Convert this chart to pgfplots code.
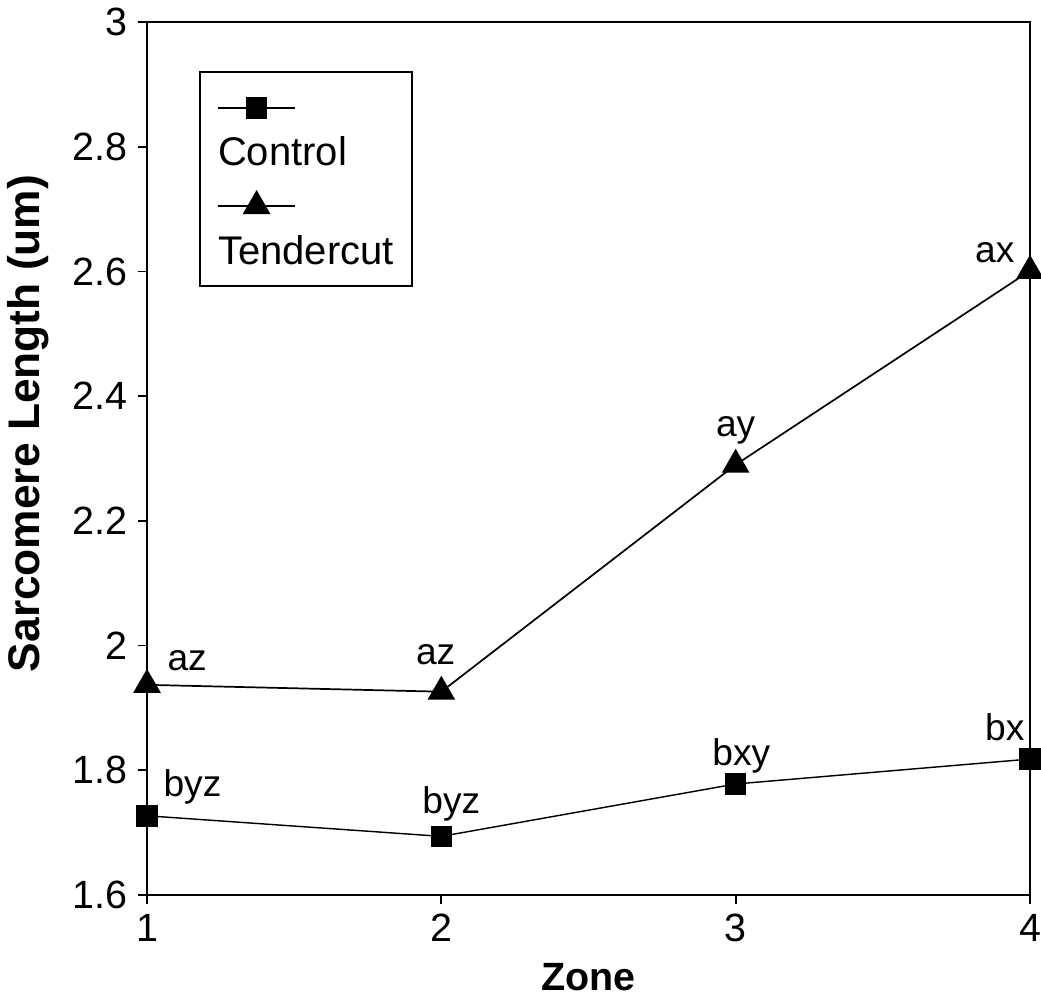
\documentclass[border=0pt]{standalone}
\usepackage{fontspec}
\setmainfont{Liberation Sans}
\usepackage{pgfplots}
\pgfplotsset{compat=1.18}

\begin{document}
\begin{tikzpicture}
  \begin{axis}[
    scale only axis,
    width=309pt,
    height=305.5pt,
    xmin=1, xmax=4,
    ymin=1.6, ymax=3,
    xtick={1,2,3,4},
    ytick={1.6,1.8,2,2.2,2.4,2.6,2.8,3},
    tick pos=left,
    tick align=outside,
    major tick length=3.2pt,
    axis line style={line width=0.7pt},
    tick style={line width=0.6pt,black},
    clip=false,
    /pgf/number format/assume math mode=true,
    ticklabel style={font=\fontsize{13.8}{16}\selectfont},
    xlabel={Zone},
    ylabel={Sarcomere Length (um)},
    xlabel style={font=\fontsize{13.8}{16}\selectfont\bfseries,
      at={(axis description cs:0.5,-0.094)}, anchor=center},
    ylabel style={font=\fontsize{15.5}{18}\selectfont\bfseries,
      at={(axis description cs:-0.135,0.54)}, anchor=center, rotate=0},
    legend style={
      at={(axis description cs:0.0589,0.9439)}, anchor=north west,
      draw=black, line width=0.7pt,
      font=\fontsize{14}{16}\selectfont,
      inner xsep=6.3pt, inner ysep=3.15pt,
      column sep=0pt, row sep=0pt,
      nodes={inner sep=0pt, text height=29.75pt, text depth=4.55pt, anchor=base west},
    },
    legend cell align=left,
    legend image code/.code={
      \draw[overlay,#1,mark repeat=2,mark phase=2]
        plot coordinates {(0pt,20.3pt) (13.5pt,20.3pt) (27pt,20.3pt)};
    },
  ]
  \coordinate (ll) at (rel axis cs:0,0);
  \coordinate (ur) at (rel axis cs:1,1);

  \addplot[black, line width=0.5pt, mark=square*, mark size=3.5pt,
    mark options={solid}] coordinates {
    (1, 1.727) (2, 1.694) (3, 1.778) (4, 1.818)
  };
  \addlegendentry{Control}
  \addplot[black, line width=0.6pt, mark=triangle*, mark size=5pt,
    mark options={solid}] coordinates {
    (1, 1.937) (2, 1.926) (3, 2.290) (4, 2.601)
  };
  \addlegendentry{Tendercut}

  \begin{scope}[every node/.style={font=\fontsize{13}{15}\selectfont, inner sep=0pt}]
    \node[anchor=base west, xshift=7pt, yshift=4.9pt] at (axis cs:1,1.937) {az};
    \node[anchor=base, xshift=-2pt, yshift=9.5pt] at (axis cs:2,1.926) {az};
    \node[anchor=base, xshift=0pt, yshift=9.8pt] at (axis cs:3,2.290) {ay};
    \node[anchor=base east, xshift=-5.25pt, yshift=2.8pt] at (axis cs:4,2.601) {ax};
    \node[anchor=base west, xshift=5.6pt, yshift=6.6pt] at (axis cs:1,1.727) {byz};
    \node[anchor=base, xshift=3.5pt, yshift=8pt] at (axis cs:2,1.694) {byz};
    \node[anchor=base, xshift=2pt, yshift=6.6pt] at (axis cs:3,1.778) {bxy};
    \node[anchor=base east, xshift=-1.75pt, yshift=6.6pt] at (axis cs:4,1.818) {bx};
  \end{scope}
  \end{axis}
  \pgfresetboundingbox
  \useasboundingbox ([xshift=-51.45pt,yshift=-35.35pt]ll) rectangle ([xshift=3.85pt,yshift=7.7pt]ur);
\end{tikzpicture}
\end{document}
